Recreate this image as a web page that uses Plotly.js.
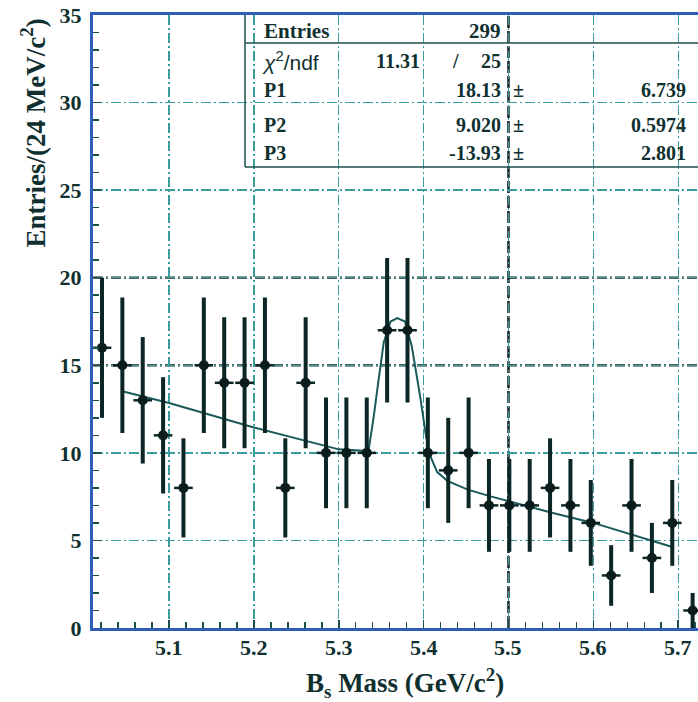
<!DOCTYPE html>
<html>
<head>
<meta charset="utf-8">
<script src="https://cdn.plot.ly/plotly-3.0.1.min.js"></script>
<style>
html,body{margin:0;padding:0;overflow:hidden;background:#fff;width:698px;height:702px;}
#chart{width:720px;height:702px;}
</style>
</head>
<body>
<div id="chart"></div>
<script>
// ---- data ----
const binCenters = [5.021,5.045,5.069,5.093,5.117,5.141,5.165,5.189,5.213,5.237,
                    5.261,5.285,5.309,5.333,5.357,5.381,5.405,5.429,5.453,5.477,
                    5.501,5.525,5.549,5.573,5.597,5.621,5.645,5.669,5.693,5.717];
const entries = [16,15,13,11,8,15,14,14,15,8,
                 14,10,10,10,17,17,10,9,10,7,
                 7,7,8,7,6,3,7,4,6,1];
const entryErrors = [4.0,3.87,3.61,3.32,2.83,3.87,3.74,3.74,3.87,2.83,
                     3.74,3.16,3.16,3.16,4.12,4.12,3.16,3.0,3.16,2.65,
                     2.65,2.65,2.83,2.65,2.45,1.73,2.65,2.0,2.45,1.0];
const fitX = [5.046,5.10,5.20,5.30,5.335,5.341,5.347,5.353,5.361,5.369,5.378,5.386,
              5.396,5.403,5.408,5.416,5.428,5.452,5.480,5.510,5.550,5.600,5.650,5.695];
const fitY = [13.5,12.85,11.45,10.2,10.1,12.0,14.2,16.3,17.5,17.7,17.5,16.1,
              13.2,10.9,9.8,8.9,8.4,7.9,7.5,7.1,6.6,6.0,5.25,4.6];
const xTickVals = [5.1,5.2,5.3,5.4,5.5,5.6,5.7];
const xTickText = ["5.1","5.2","5.3","5.4","5.5","5.6","5.7"];
const yTickVals = [0,5,10,15,20,25,30,35];
const statEntries = "299";
const statChi2 = "11.31";
const statNdf = "25";
const paramNames = ["P1","P2","P3"];
const paramValues = ["18.13","9.020","-13.93"];
const paramErrors = ["6.739","0.5974","2.801"];

// ---- layout helpers (pixel -> paper) ----
const L = 93, R = 704, T = 15, B = 628;
const fx = px => (px - L) / (R - L);
const fy = py => (B - py) / (B - T);

const serif = "Liberation Serif, Times New Roman, serif";
const txt = "#103030";
const grid = "#3a9c9c";
const axisBlue = "#2d5fb8";
const dashdot = "10px,3px,2px,3px";

const traces = [
  {
    x: fitX, y: fitY, type: "scatter", mode: "lines",
    line: {color: "#1b5a5a", width: 2},
    hoverinfo: "skip", showlegend: false
  },
  {
    x: binCenters, y: entries, type: "scatter", mode: "markers",
    marker: {symbol: "circle", size: 10, color: "#0a1c1c"},
    error_y: {type: "data", array: entryErrors, visible: true, thickness: 4, width: 0, color: "#0c2626"},
    error_x: {type: "constant", value: 0.011, visible: true, thickness: 2.5, width: 0, color: "#0c2626"},
    showlegend: false
  }
];

const annotations = [];
function addText(text, px, py, xanchor, opts) {
  annotations.push(Object.assign({
    text: text, xref: "paper", yref: "paper", x: fx(px), y: fy(py),
    xanchor: xanchor, yanchor: "middle", showarrow: false,
    font: {family: serif, size: 20, color: txt, weight: "bold"}
  }, opts || {}));
}
// stats box text
addText("Entries", 262, 31, "left", {font: {family: serif, size: 21, color: txt, weight: "bold"}});
addText(statEntries, 503, 31, "right", {font: {family: serif, size: 21, color: txt, weight: "bold"}});
addText("<i>χ</i><sup>2</sup>/ndf", 260, 61, "left",
  {font: {family: "Liberation Sans, Arial, sans-serif", size: 21, color: txt}});
addText(statChi2, 422, 61, "right");
addText("/", 455, 61, "center");
addText(statNdf, 503, 61, "right");
const rowY = [90, 125, 153];
paramNames.forEach((n, i) => {
  addText(n, 262, rowY[i], "left");
  addText(paramValues[i], 503, rowY[i], "right");
  addText("±", 511, rowY[i], "left");
  addText(paramErrors[i], 688, rowY[i], "right");
});
// x tick labels, placed on the x axis scale
xTickVals.forEach((v, i) => {
  annotations.push({
    text: xTickText[i], xref: "x", yref: "paper", x: v, y: fy(647),
    xanchor: "center", yanchor: "middle", showarrow: false,
    font: {family: serif, size: 22, color: txt, weight: "bold"}
  });
});
// axis titles
annotations.push({
  text: "<b>Entries/(24 MeV/c<sup>2</sup>)</b>", xref: "paper", yref: "paper",
  x: fx(33), y: fy(17), xanchor: "center", yanchor: "top", textangle: -90,
  showarrow: false, font: {family: serif, size: 27, color: txt}
});
annotations.push({
  text: "<b>B<sub>s</sub> Mass (GeV/c<sup>2</sup>)</b>", xref: "paper", yref: "paper",
  x: fx(405), y: fy(683), xanchor: "center", yanchor: "middle",
  showarrow: false, font: {family: serif, size: 27, color: txt}
});

const boxColor = "#1d4f4f";
const shapes = [
  // stats box
  {type: "line", xref: "paper", yref: "paper", x0: fx(245), x1: fx(245), y0: fy(15), y1: fy(167), line: {color: boxColor, width: 1.5}},
  {type: "line", xref: "paper", yref: "paper", x0: fx(245), x1: fx(720), y0: fy(43), y1: fy(43), line: {color: boxColor, width: 1.5}},
  {type: "line", xref: "paper", yref: "paper", x0: fx(245), x1: fx(720), y0: fy(167), y1: fy(167), line: {color: boxColor, width: 1.5}},
  // darker grid lines
  {type: "line", xref: "paper", yref: "y", x0: 0, x1: 1, y0: 20, y1: 20, layer: "between", line: {color: "#142626", width: 2.2, dash: dashdot}},
  {type: "line", xref: "paper", yref: "y", x0: 0, x1: 1, y0: 15, y1: 15, layer: "between", line: {color: "#142626", width: 2.2, dash: dashdot}},
  {type: "line", xref: "x", yref: "paper", x0: 5.5, x1: 5.5, y0: 0, y1: 1, layer: "between", line: {color: "#142020", width: 2.5, dash: "12px,3px"}}
];

const layout = {
  width: 720, height: 702,
  margin: {l: L, r: 720 - R, t: T, b: 702 - B, pad: 0},
  paper_bgcolor: "#ffffff", plot_bgcolor: "#ffffff",
  showlegend: false,
  xaxis: {
    range: [5.0104, 5.7304], tickvals: xTickVals, showticklabels: false,
    ticks: "inside", ticklen: 8, tickwidth: 1.5, tickcolor: "#1d4f4f",
    minor: {dtick: 0.02, tick0: 5.0, ticks: "inside", ticklen: 6, tickwidth: 1.5, tickcolor: "#1d4f4f", showgrid: false},
    showgrid: true, gridcolor: grid, gridwidth: 1.3, griddash: dashdot,
    showline: true, linecolor: axisBlue, linewidth: 3, mirror: true,
    zeroline: false
  },
  yaxis: {
    range: [0, 35], tickvals: yTickVals,
    ticks: "inside", ticklen: 8, tickwidth: 1.5, tickcolor: "#1d4f4f",
    minor: {dtick: 1, tick0: 0, ticks: "inside", ticklen: 6, tickwidth: 1.5, tickcolor: "#1d4f4f", showgrid: false},
    showgrid: true, gridcolor: grid, gridwidth: 1.3, griddash: dashdot,
    showline: true, linecolor: axisBlue, linewidth: 3, mirror: true,
    zeroline: false, ticklabelstandoff: 4,
    tickfont: {family: serif, size: 22, color: txt, weight: "bold"}
  },
  annotations: annotations,
  shapes: shapes
};

Plotly.newPlot("chart", traces, layout, {displayModeBar: false, staticPlot: true});
</script>
</body>
</html>
